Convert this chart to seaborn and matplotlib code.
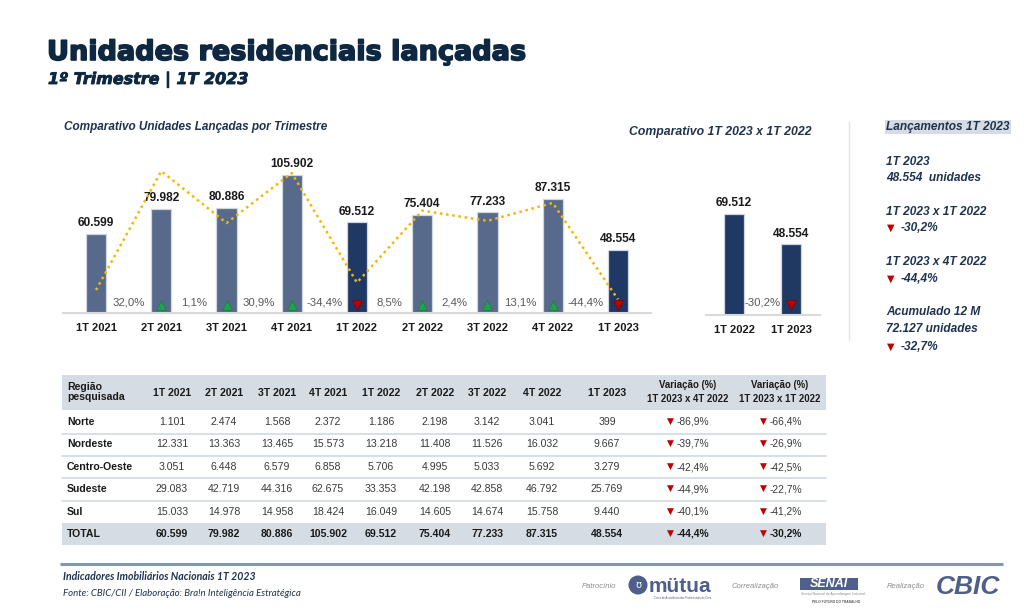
import matplotlib
matplotlib.use("Agg")
import matplotlib.pyplot as plt
import matplotlib.patheffects as pe
import seaborn as sns
import pandas as pd
from matplotlib.patches import Rectangle, Circle

# ---------------- data ----------------
quarters = ["1T 2021", "2T 2021", "3T 2021", "4T 2021", "1T 2022",
            "2T 2022", "3T 2022", "4T 2022", "1T 2023"]
totals = [60599, 79982, 80886, 105902, 69512, 75404, 77233, 87315, 48554]
qoq_pct = [-38.8, 32.0, 1.1, 30.9, -34.4, 8.5, 2.4, 13.1, -44.4]
highlight = ["1T 2022", "1T 2023"]

cmp_quarters = ["1T 2022", "1T 2023"]
cmp_values = [69512, 48554]
cmp_pct = -30.2

regions = ["Norte", "Nordeste", "Centro-Oeste", "Sudeste", "Sul"]
norte = [1101, 2474, 1568, 2372, 1186, 2198, 3142, 3041, 399]
nordeste = [12331, 13363, 13465, 15573, 13218, 11408, 11526, 16032, 9667]
centro_oeste = [3051, 6448, 6579, 6858, 5706, 4995, 5033, 5692, 3279]
sudeste = [29083, 42719, 44316, 62675, 33353, 42198, 42858, 46792, 25769]
sul = [15033, 14978, 14958, 18424, 16049, 14605, 14674, 15758, 9440]
var_vs_4t22 = [-86.9, -39.7, -42.4, -44.9, -40.1, -44.4]
var_vs_1t22 = [-66.4, -26.9, -42.5, -22.7, -41.2, -30.2]

summary_units = 48554
summary_vs_1t = -30.2
summary_vs_4t = -44.4
accum_12m = 72127
accum_pct = -32.7


def fmt_int(v):
    return f"{v:,}".replace(",", ".")


def fmt_pct(p):
    return f"{p:.1f}".replace(".", ",") + "%"


# ---------------- style ----------------
sns.set_theme(style="white")
NARROW = ["Liberation Sans Narrow", "Liberation Sans", "DejaVu Sans"]
ARIAL = ["Liberation Sans", "DejaVu Sans"]
plt.rcParams["font.family"] = NARROW

NAVY = "#0e2841"
NAVY2 = "#1f3350"
BAR_LIGHT = "#586a8c"
BAR_DARK = "#203864"
GREEN = "#14a84a"
RED = "#c00000"
GRID_BG = "#d6dce4"

W, H = 1024, 613
fig = plt.figure(figsize=(W / 100, H / 100), dpi=100)
fig.patch.set_facecolor("white")


def fx(px):
    return px / W


def fy(py):
    return 1 - py / H


ov = fig.add_axes([0, 0, 1, 1], zorder=0)
ov.set_xlim(0, W)
ov.set_ylim(H, 0)
ov.axis("off")

# ---------------- titles ----------------
ov.text(47, 60, "Unidades residenciais lançadas", fontsize=19.5, fontweight="bold",
        family="DejaVu Sans", color=NAVY, va="baseline", ha="left",
        path_effects=[pe.withStroke(linewidth=1.2, foreground=NAVY)])
ov.text(48, 84, "1º Trimestre | 1T 2023", fontsize=11.5, fontweight="bold", style="italic",
        family="DejaVu Sans", color=NAVY, va="baseline", ha="left",
        path_effects=[pe.withStroke(linewidth=0.6, foreground=NAVY)])
ov.text(64, 127, "Comparativo Unidades Lançadas por Trimestre", fontsize=8.5,
        fontweight="bold", style="italic", family=ARIAL, color=NAVY2, va="center")
ov.text(629, 132, "Comparativo 1T 2023 x 1T 2022", fontsize=8.8,
        fontweight="bold", style="italic", family=ARIAL, color=NAVY2, va="center")

# ---------------- main chart ----------------
df = pd.DataFrame({"quarter": quarters, "units": totals})
pal = {q: (BAR_DARK if q in highlight else BAR_LIGHT) for q in quarters}
ax = fig.add_axes([fx(63.4), fy(313), fx(650.6 - 63.4), 163 / H], zorder=2)
ax.patch.set_alpha(0)
sns.barplot(data=df, x="quarter", y="units", hue="quarter", palette=pal, width=0.31,
            legend=False, ax=ax, edgecolor="#cfd6e2", linewidth=0.9, saturation=1)
ax.set_xlim(-0.5, len(quarters) - 0.5)
ax.set_ylim(0, 125100)
ax.set_xlabel("")
ax.set_ylabel("")
ax.set_yticks([])
sns.despine(ax=ax, left=True)
ax.spines["bottom"].set_color("#d9d9d9")
ax.spines["bottom"].set_linewidth(1.5)
ax.tick_params(axis="x", length=0, pad=7, labelsize=8, labelcolor="#1a1a1a")
for t in ax.get_xticklabels():
    t.set_fontweight("bold")

for i, v in enumerate(totals):
    ax.annotate(fmt_int(v), (i, v), xytext=(0, 3.5), textcoords="offset points",
                ha="center", va="bottom", fontsize=8.6, fontweight="bold", color="#1a1a1a")

for i in range(1, len(quarters)):
    ax.text(i - 0.5, 7700, fmt_pct(qoq_pct[i]), ha="center", va="center",
            fontsize=8.2, color="#595959")
    up = qoq_pct[i] >= 0
    ax.scatter([i], [6100], marker="^" if up else "v", s=48,
               color=GREEN if up else RED, edgecolor="#2e6b3a" if up else "#7a0000",
               linewidth=0.4, zorder=4)

ax2 = ax.twinx()
sns.lineplot(x=list(range(len(quarters))), y=qoq_pct, ax=ax2, color="#f7b500",
             linewidth=1.8, linestyle=(0, (1, 1.5)))
ax2.set_ylim(-52.5, 44.6)
ax2.set_axis_off()

# ---------------- comparison chart ----------------
dfc = pd.DataFrame({"quarter": cmp_quarters, "units": cmp_values})
axc = fig.add_axes([fx(705.5), fy(315), fx(114), 165 / H], zorder=2)
axc.patch.set_alpha(0)
sns.barplot(data=dfc, x="quarter", y="units", hue="quarter",
            palette={q: BAR_DARK for q in cmp_quarters}, width=0.35, legend=False,
            ax=axc, edgecolor="#cfd6e2", linewidth=0.9, saturation=1)
axc.set_xlim(-0.5, 1.5)
axc.set_ylim(0, 113600)
axc.set_xlabel("")
axc.set_ylabel("")
axc.set_yticks([])
sns.despine(ax=axc, left=True)
axc.spines["bottom"].set_color("#d9d9d9")
axc.spines["bottom"].set_linewidth(1.5)
axc.tick_params(axis="x", length=0, pad=7, labelsize=8, labelcolor="#1a1a1a")
for t in axc.get_xticklabels():
    t.set_fontweight("bold")
for i, v in enumerate(cmp_values):
    axc.annotate(fmt_int(v), (i, v), xytext=(0, 3.5), textcoords="offset points",
                 ha="center", va="bottom", fontsize=8.6, fontweight="bold", color="#1a1a1a")
axc.text(0.5, 8300, fmt_pct(cmp_pct), ha="center", va="center", fontsize=8.2, color="#595959")
axc.scatter([1], [6900], marker="v", s=48, color=RED, edgecolor="#7a0000", linewidth=0.4, zorder=4)

# separator
ov.plot([849, 849], [122, 340], color="#e3e3e3", lw=1)

# ---------------- right panel ----------------
RP = dict(fontsize=8.6, fontweight="bold", style="italic", family=ARIAL, color=NAVY2,
          va="center", ha="left")
ov.text(886, 127, "Lançamentos 1T 2023",
        bbox=dict(boxstyle="square,pad=0.12", fc=GRID_BG, ec="none"), **RP)
ov.text(886, 162, "1T 2023", **RP)
ov.text(886, 178, f"{fmt_int(summary_units)}  unidades", **RP)
ov.text(886, 212, "1T 2023 x 1T 2022", **RP)
ov.text(901, 228, fmt_pct(summary_vs_1t), **RP)
ov.text(886, 262, "1T 2023 x 4T 2022", **RP)
ov.text(901, 279, fmt_pct(summary_vs_4t), **RP)
ov.text(886, 312, "Acumulado 12 M", **RP)
ov.text(886, 329, f"{fmt_int(accum_12m)} unidades", **RP)
ov.text(901, 347, fmt_pct(accum_pct), **RP)
for yy in (228, 279, 347):
    ov.text(891, yy, "▼", fontsize=7, family="DejaVu Sans", color=RED, ha="center", va="center")

# ---------------- table ----------------
col_x = [172, 224, 277, 328, 381, 435, 487, 542, 607]
row_y = [422, 444, 467, 489, 512, 534]
ov.add_patch(Rectangle((62, 375), 764, 35, fc=GRID_BG, ec="none"))
ov.add_patch(Rectangle((62, 523), 764, 22, fc=GRID_BG, ec="none"))
for yy in (433.5, 455.5, 478, 500.5):
    ov.plot([62, 826], [yy, yy], color=GRID_BG, lw=1.3)

TH = dict(fontsize=7.6, fontweight="bold", color="#1a1a1a", va="center")
TV = dict(fontsize=6.9, fontweight="bold", color="#1a1a1a", va="center")
ov.text(67, 392, "Região\npesquisada", ha="left", linespacing=1.05, **TH)
for x, q in zip(col_x, quarters):
    ov.text(x, 393, q, ha="center", **TH)
ov.text(688, 385, "Variação (%)", ha="center", **TV)
ov.text(688, 399, "1T 2023 x 4T 2022", ha="center", **TV)
ov.text(780, 385, "Variação (%)", ha="center", **TV)
ov.text(780, 399, "1T 2023 x 1T 2022", ha="center", **TV)

rows = [norte, nordeste, centro_oeste, sudeste, sul, totals]
names = regions + ["TOTAL"]
for r, (name, vals) in enumerate(zip(names, rows)):
    y = row_y[r]
    is_total = name == "TOTAL"
    ov.text(67, y, name, ha="left", **TH)
    for x, v in zip(col_x, vals):
        ov.text(x, y, fmt_int(v), ha="center", va="center", fontsize=7.6,
                fontweight="bold" if is_total else "normal",
                color="#1a1a1a" if is_total else "#3a3a3a")
    for tx, vx, vv in ((670, 677, var_vs_4t22[r]), (763, 770, var_vs_1t22[r])):
        ov.text(tx, y - 1, "▼", fontsize=6.5, family="DejaVu Sans", color=RED,
                ha="center", va="center")
        ov.text(vx, y, fmt_pct(vv), ha="left", va="center", fontsize=7.4,
                fontweight="bold" if is_total else "normal",
                color="#1a1a1a" if is_total else "#3a3a3a")

# ---------------- footer ----------------
ov.plot([60, 1003], [564, 564], color="#8497b0", lw=2.2, solid_capstyle="butt")
ov.text(63, 577, "Indicadores Imobiliários Nacionais 1T 2023", fontsize=7.6,
        fontweight="bold", style="italic", family=["Lato", "DejaVu Sans"], color=NAVY2,
        va="center", ha="left")
ov.text(63, 594, "Fonte: CBIC/CII / Elaboração: Bra!n Inteligência Estratégica", fontsize=6.9,
        style="italic", family=["Lato", "DejaVu Sans"], color=NAVY2, va="center", ha="left")

LOGO = "#4d5f8a"
ov.text(599, 586, "Patrocínio", fontsize=5.5, style="italic", family=ARIAL, color="#8c8c8c",
        ha="center", va="center")
ov.add_patch(Circle((638, 585), 9.5, fc=LOGO, ec="none"))
ov.text(638, 585, "ʊ", fontsize=7, color="white", family="DejaVu Sans", ha="center", va="center")
ov.text(649, 586, "mütua", fontsize=15, fontweight="bold", family=ARIAL, color=LOGO,
        ha="left", va="center")
ov.text(683, 598, "Caixa de Assistência dos Profissionais do Crea", fontsize=2, color=LOGO,
        ha="center", va="center", family=ARIAL)
ov.text(755, 586, "Correalização", fontsize=5.5, style="italic", family=ARIAL, color="#8c8c8c",
        ha="center", va="center")
ov.add_patch(Rectangle((800, 578), 58, 12, fc=LOGO, ec="none"))
ov.text(829, 584, "SENAI", fontsize=9, fontweight="bold", style="italic", family=ARIAL,
        color="white", ha="center", va="center")
ov.text(833, 594, "Serviço Nacional de Aprendizagem Industrial", fontsize=2.3, color="#8c8c8c",
        ha="center", va="center", family=ARIAL)
ov.text(836, 602, "PELO FUTURO DO TRABALHO", fontsize=2.3, fontweight="bold", color="#555555",
        ha="center", va="center", family=ARIAL)
ov.text(906, 586, "Realização", fontsize=5.5, style="italic", family=ARIAL, color="#8c8c8c",
        ha="center", va="center")
ov.text(968, 587, "CBIC", fontsize=19, fontweight="bold", style="italic", family=ARIAL,
        color=LOGO, ha="center", va="center")

fig.savefig("out.png", dpi=100, facecolor="white")
